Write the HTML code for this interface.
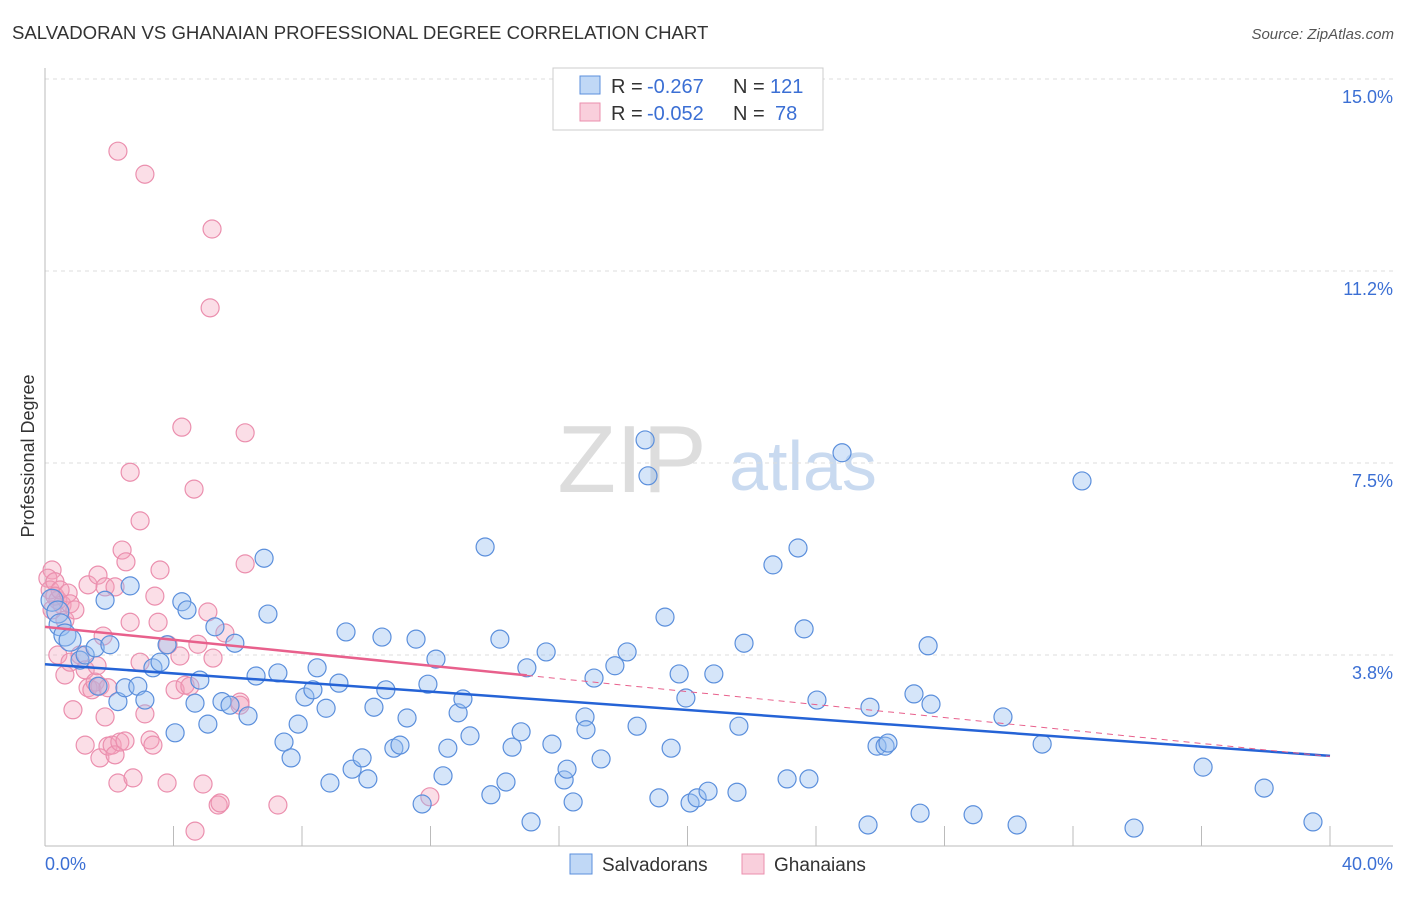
<!DOCTYPE html>
<html><head><meta charset="utf-8"><style>
body{margin:0;background:#fff;font-family:"Liberation Sans",sans-serif;}
svg text{font-family:"Liberation Sans",sans-serif;}
</style></head><body>
<svg id="c" width="1406" height="892" xmlns="http://www.w3.org/2000/svg">
<text x="12" y="39" font-size="18.6" fill="#333">SALVADORAN VS GHANAIAN PROFESSIONAL DEGREE CORRELATION CHART</text>
<text x="1394" y="39" font-size="15" fill="#555" text-anchor="end" font-style="italic">Source: ZipAtlas.com</text>
<text x="632" y="492" font-size="96" fill="#ddd" font-family="Liberation Serif" text-anchor="middle">ZIP</text>
<text x="803" y="490" font-size="70" fill="#c9daf0" text-anchor="middle">atlas</text>
<text x="34" y="456" font-size="18" fill="#333" text-anchor="middle" transform="rotate(-90 34 456)">Professional Degree</text>
<g id="grid"></g><g id="marks"></g>
</svg>
<script>
const yTicks=[15,11.25,7.5,3.75];
const yTickLabels=["15.0%","11.2%","7.5%","3.8%"];
const xTicks=[0,4,8,12,16,20,24,28,32,36,40];
const blueX=[0.22,0.40,0.47,0.62,0.78,1.09,1.25,1.56,1.65,1.87,2.02,2.27,2.49,2.65,2.89,3.11,3.36,3.58,3.80,4.05,4.26,4.42,4.67,4.82,5.07,5.29,5.51,5.76,5.91,6.32,6.57,6.82,6.94,7.25,7.44,7.66,7.88,8.09,8.34,8.47,8.75,8.87,9.15,9.37,9.56,9.87,10.05,10.24,10.49,10.61,10.86,11.05,11.27,11.55,11.74,11.92,12.17,12.39,12.54,12.86,13.01,13.23,13.70,13.88,14.16,14.35,14.54,14.82,15.00,15.13,15.60,15.78,16.16,16.25,16.44,16.81,16.84,17.09,17.31,17.74,18.12,18.43,18.68,18.77,19.11,19.30,19.49,19.74,19.95,20.08,20.30,20.64,20.82,21.54,21.60,21.76,22.66,23.10,23.44,23.63,23.78,24.03,24.81,25.62,25.68,25.90,26.15,26.24,27.05,27.24,27.49,27.58,28.89,29.82,30.26,31.04,32.28,33.90,36.05,37.95,39.47];
const blueY=[4.82,4.59,4.34,4.14,4.04,3.65,3.75,3.89,3.14,4.82,3.95,2.84,3.11,5.10,3.14,2.87,3.50,3.61,3.95,2.23,4.79,4.63,2.81,3.26,2.40,4.30,2.84,2.77,3.98,2.56,3.34,5.64,4.55,3.40,2.05,1.74,2.40,2.93,3.07,3.50,2.71,1.25,3.20,4.20,1.52,1.74,1.33,2.73,4.10,3.07,1.93,1.99,2.52,4.06,0.84,3.18,3.67,1.39,1.93,2.62,2.89,2.17,5.86,1.02,4.06,1.27,1.95,2.25,3.50,0.49,3.81,2.01,1.31,1.52,0.88,2.54,2.29,3.30,1.72,3.54,3.81,2.36,7.95,7.25,0.96,4.49,1.93,3.38,2.91,0.86,0.96,1.09,3.38,1.07,2.36,3.98,5.51,1.33,5.84,4.26,1.33,2.87,7.70,0.43,2.73,1.97,1.97,2.03,2.99,0.66,3.93,2.79,0.63,2.54,0.43,2.01,7.15,0.37,1.56,1.15,0.49];
const pinkX=[0.22,0.09,0.16,0.31,0.40,0.53,0.62,0.47,0.31,0.72,0.78,0.93,0.22,0.40,0.62,0.78,0.87,1.09,1.25,1.34,1.46,1.56,1.62,1.71,1.81,1.87,1.96,1.25,1.71,1.96,2.09,2.18,2.27,2.33,2.49,2.27,3.11,5.20,5.14,2.65,2.96,2.40,2.52,2.65,2.74,2.96,3.11,3.27,3.36,3.42,3.52,3.58,3.80,3.83,4.05,4.20,4.26,4.36,4.51,4.64,4.76,4.92,5.07,5.23,5.39,5.45,5.60,6.07,6.23,6.23,7.25,4.67,1.34,1.65,1.87,2.18,11.98,6.07];
const pinkY=[5.41,5.25,5.02,5.18,4.82,4.73,4.43,5.02,4.90,4.96,4.75,4.63,4.63,3.75,3.36,3.61,2.68,3.75,3.46,3.11,3.07,3.22,3.54,3.14,4.12,2.54,3.11,1.99,1.74,1.97,1.99,1.80,1.25,2.05,2.07,13.59,13.14,12.07,10.53,7.32,6.37,5.80,5.57,4.39,1.35,3.61,2.60,2.09,1.99,4.90,4.39,5.41,1.25,3.95,3.07,3.73,8.20,3.16,3.14,6.99,3.96,1.23,4.59,3.69,0.82,0.86,4.18,2.83,8.09,5.53,0.82,0.31,5.12,5.31,5.08,5.08,0.98,2.77];
const blueTrend=[3.57,1.78];
const pinkTrend=[4.30,1.77];
const legendR=["-0.267","-0.052"], legendN=["121","78"];

const NS="http://www.w3.org/2000/svg";
const X=v=>45+v*32.125, Y=v=>79+(15-v)*51.2;
function mk(t,a,p){const e=document.createElementNS(NS,t);for(const k in a)e.setAttribute(k,a[k]);(p||document.getElementById('marks')).appendChild(e);return e;}
const g=document.getElementById('grid');
yTicks.forEach((t,i)=>{
 const l=mk('line',{x1:45,x2:1393,y1:Y(t),y2:Y(t),stroke:'#ddd','stroke-dasharray':'4,4'},g);
 
 
 const tx=mk('text',{x:1393,y:Y(t)+24,'font-size':18,fill:'#3b6fd4','text-anchor':'end'},g);
 tx.textContent=yTickLabels[i];
 
 
});
let ax=mk('line',{x1:45,x2:45,y1:68,y2:846,stroke:'#bbb'},g);


ax=mk('line',{x1:45,x2:1393,y1:846,y2:846,stroke:'#bbb'},g);


xTicks.forEach(t=>{const l=mk('line',{x1:X(t),x2:X(t),y1:826,y2:846,stroke:'#bbb'},g);
 
 });
[[0,"0.0%",'start',45],[40,"40.0%",'end',1393]].forEach(a=>{const t=mk('text',{x:a[3],y:870,'font-size':18,fill:'#3b6fd4','text-anchor':a[2]},g);t.textContent=a[1];
 
 });
pinkX.forEach((x,i)=>{const c=mk('circle',{cx:X(x),cy:Y(pinkY[i]),r:9,fill:'rgba(244,160,185,0.35)',stroke:'#eb8fae','stroke-width':1.2});
 
 });
blueX.forEach((x,i)=>{const c=mk('circle',{cx:X(x),cy:Y(blueY[i]),r:i<5?11:9,fill:'rgba(150,190,240,0.4)',stroke:'#5b8fdc','stroke-width':1.2});
 
 });
let tl=mk('line',{x1:X(0),y1:Y(blueTrend[0]),x2:X(40),y2:Y(blueTrend[1]),stroke:'#2563d6','stroke-width':2.5});


const pAt=x=>pinkTrend[0]+(pinkTrend[1]-pinkTrend[0])*x/40;
tl=mk('line',{x1:X(0),y1:Y(pAt(0)),x2:X(15),y2:Y(pAt(15)),stroke:'#e8608c','stroke-width':2.5});


tl=mk('line',{x1:X(15),y1:Y(pAt(15)),x2:X(40),y2:Y(pAt(40)),stroke:'#e8608c','stroke-width':1,'stroke-dasharray':'6,5'});


const lg=mk('g',{});


mk('rect',{x:553,y:68,width:270,height:62,fill:'#fff',stroke:'#ccc'},lg);
[['rgba(150,190,240,0.6)','#5b8fdc'],['rgba(244,160,185,0.5)','#eb8fae']].forEach((c,i)=>{
 const y=76+i*27;
 mk('rect',{x:580,y:y,width:20,height:18,fill:c[0],stroke:c[1]},lg);
 const t=mk('text',{x:611,y:y+17,'font-size':20,fill:'#333'},lg);
 t.innerHTML='R = <tspan fill="#3b6fd4" x="647">'+legendR[i]+'</tspan><tspan x="733">N = </tspan><tspan fill="#3b6fd4" x="'+(i?775:770)+'">'+legendN[i]+'</tspan>';
 
 
});
[['rgba(150,190,240,0.6)','#5b8fdc','Salvadorans',570],['rgba(244,160,185,0.5)','#eb8fae','Ghanaians',742]].forEach(a=>{
 const r=mk('rect',{x:a[3],y:854,width:22,height:20,fill:a[0],stroke:a[1]},g);
 
 
 const t=mk('text',{x:a[3]+32,y:871,'font-size':19,fill:'#333'},g);t.textContent=a[2];
 
 
});
</script>
</body></html>
